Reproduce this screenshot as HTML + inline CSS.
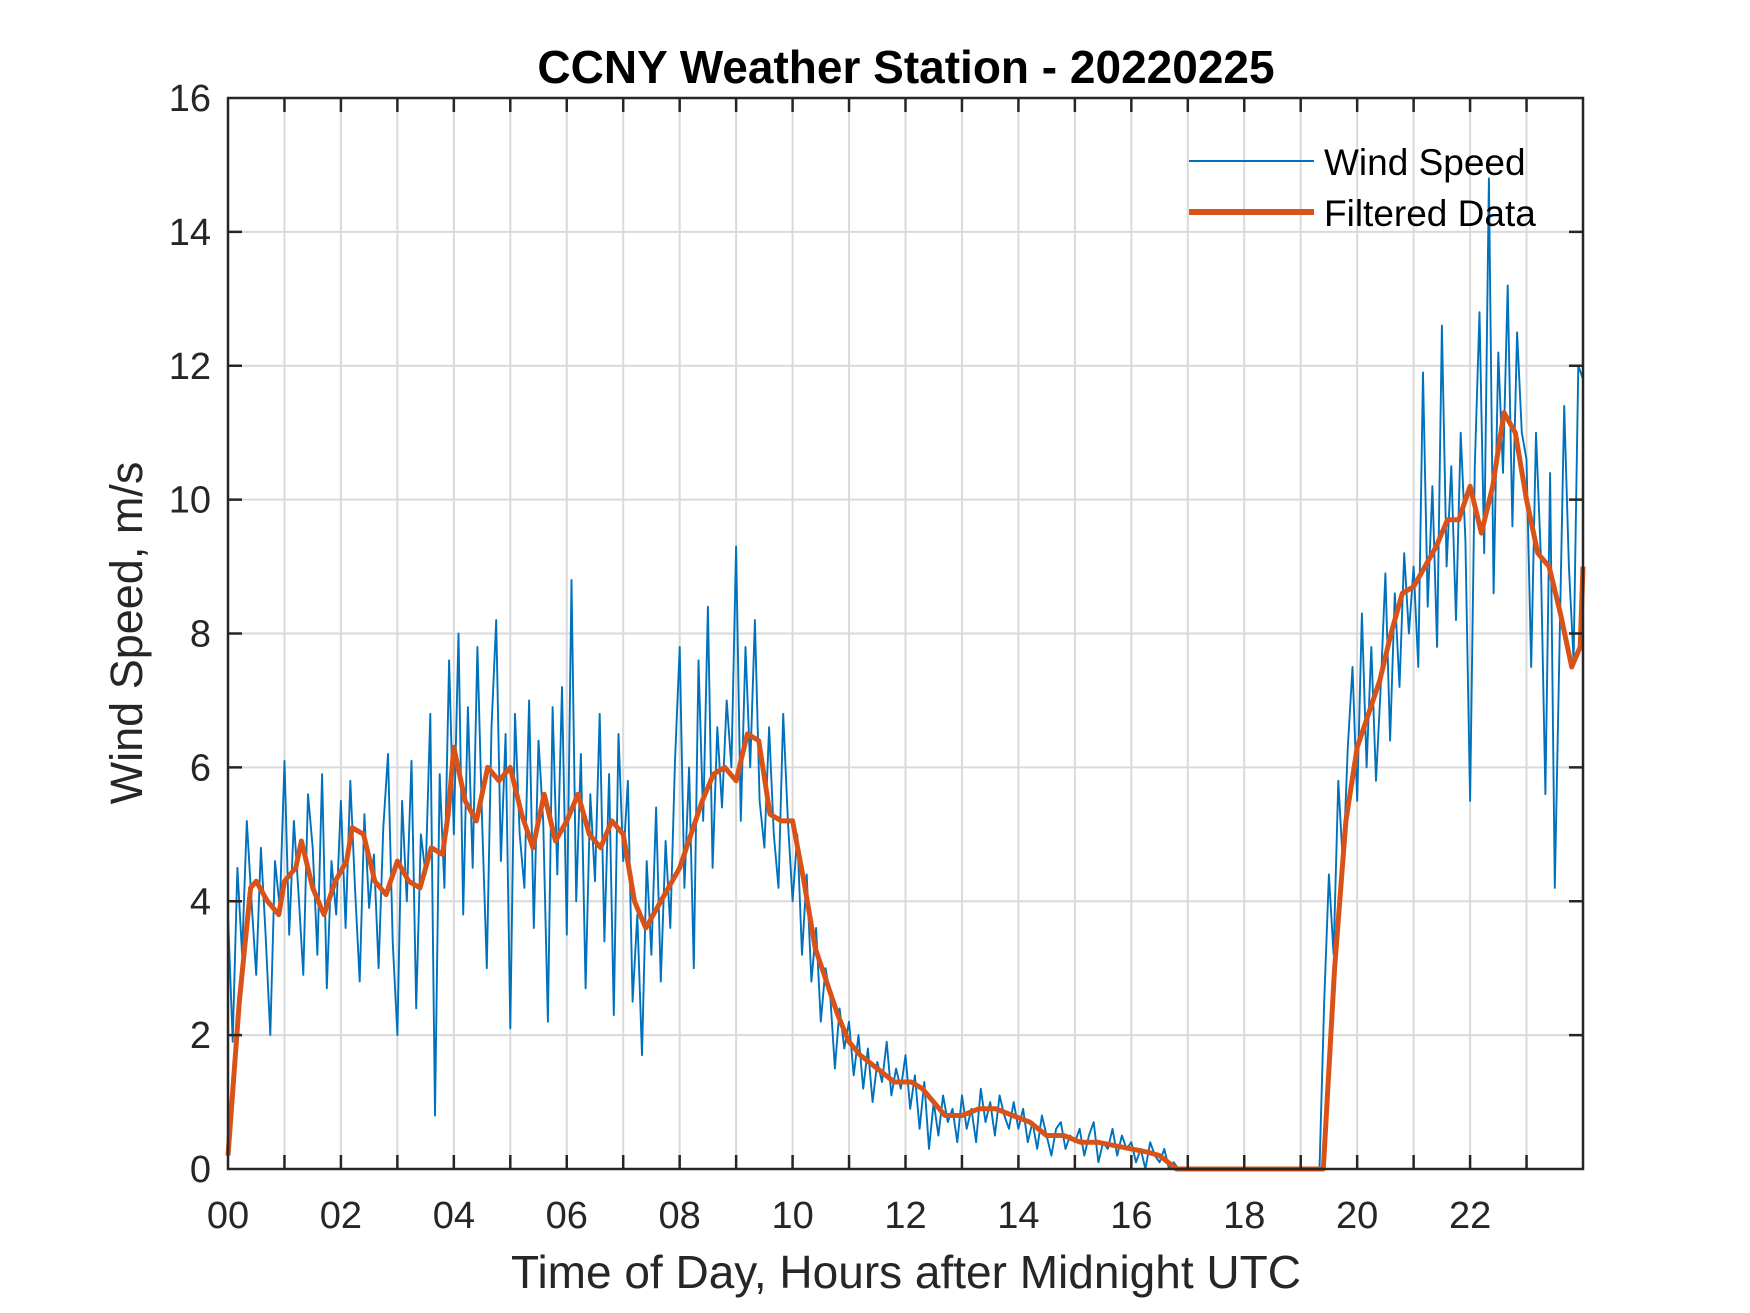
<!DOCTYPE html>
<html><head><meta charset="utf-8"><style>
html,body{margin:0;padding:0;background:#fff}
svg{display:block;font-family:"Liberation Sans",Arial,sans-serif}
</style></head><body>
<svg id="chart" width="1750" height="1313" viewBox="0 0 1750 1313" xmlns="http://www.w3.org/2000/svg">
<rect width="1750" height="1313" fill="#fff"/>
<g id="grid"></g>
<g id="series"></g>
<g id="axes"></g>
<text x="906" y="83" text-anchor="middle" font-size="46" font-weight="bold" fill="#000">CCNY Weather Station - 20220225</text>
<text x="906" y="1288" text-anchor="middle" font-size="46" fill="#262626">Time of Day, Hours after Midnight UTC</text>
<text transform="translate(142,633) rotate(-90)" text-anchor="middle" font-size="45" fill="#262626">Wind Speed, m/s</text>
<g>
<line x1="1189" y1="161" x2="1314" y2="161" stroke="#0072BD" stroke-width="2"/>
<text x="1324" y="175" font-size="37" fill="#000">Wind Speed</text>
<line x1="1189" y1="212" x2="1314" y2="212" stroke="#D95319" stroke-width="6"/>
<text x="1324" y="226" font-size="37" fill="#000">Filtered Data</text>
</g>
</svg>
<script>
const xTickLabels = ["00","02","04","06","08","10","12","14","16","18","20","22"];
const yTickLabels = [0,2,4,6,8,10,12,14,16];
const windSpeed = [
3.8,1.9,4.5,3.2,5.2,4.0,2.9,4.8,3.5,2.0,4.6,3.9,
6.1,3.5,5.2,4.1,2.9,5.6,4.8,3.2,5.9,2.7,4.6,3.8,
5.5,3.6,5.8,4.2,2.8,5.3,3.9,4.7,3.0,5.1,6.2,3.4,
2.0,5.5,4.0,6.1,2.4,5.0,4.4,6.8,0.8,5.9,4.2,7.6,
5.0,8.0,3.8,6.9,4.5,7.8,5.2,3.0,6.6,8.2,4.6,6.5,
2.1,6.8,5.0,4.2,7.0,3.6,6.4,5.2,2.2,6.9,4.4,7.2,
3.5,8.8,4.0,6.2,2.7,5.6,4.3,6.8,3.4,5.9,2.3,6.5,
4.6,5.8,2.5,3.8,1.7,4.6,3.2,5.4,2.8,4.9,3.6,6.1,
7.8,4.2,6.0,3.0,7.6,5.2,8.4,4.5,6.6,5.4,7.0,6.0,
9.3,5.2,7.8,6.0,8.2,5.5,4.8,6.6,5.0,4.2,6.8,5.2,
4.0,5.0,3.2,4.4,2.8,3.6,2.2,3.0,2.6,1.5,2.4,1.8,
2.2,1.4,2.0,1.2,1.8,1.0,1.6,1.3,1.9,1.1,1.5,1.2,
1.7,0.9,1.4,0.6,1.3,0.3,1.0,0.5,1.1,0.7,0.9,0.4,
1.1,0.6,0.9,0.4,1.2,0.7,1.0,0.5,1.1,0.8,0.6,1.0,
0.6,0.9,0.4,0.7,0.3,0.8,0.5,0.2,0.6,0.7,0.3,0.5,
0.4,0.6,0.2,0.5,0.7,0.1,0.4,0.3,0.6,0.2,0.5,0.3,
0.4,0.1,0.3,0.0,0.4,0.2,0.1,0.3,0.0,0.1,0.0,0.0,
0,0,0,0,0,0,0,0,0,0,0,0,
0,0,0,0,0,0,0,0,0,0,0,0,
0,0,0,0,0,2.5,4.4,3.2,5.8,4.5,6.3,7.5,
5.5,8.3,6.0,7.8,5.8,7.2,8.9,6.4,8.6,7.2,9.2,8.0,
9.0,7.5,11.9,8.4,10.2,7.8,12.6,9.0,10.5,8.2,11.0,9.4,
5.5,10.5,12.8,9.2,14.8,8.6,12.2,10.4,13.2,9.6,12.5,11.0,
10.6,7.5,11.0,9.2,5.6,10.4,4.2,7.8,11.4,9.0,7.6,12.0,
11.8];
const filtHours = [0,0.2,0.4,0.5,0.7,0.9,1.0,1.2,1.3,1.5,1.7,1.9,2.1,2.2,2.4,2.6,2.8,3.0,3.2,3.4,3.6,3.8,3.9,4.0,4.2,4.4,4.6,4.8,5.0,5.2,5.4,5.6,5.8,6.0,6.2,6.4,6.6,6.8,7.0,7.2,7.4,7.6,7.8,8.0,8.2,8.4,8.6,8.8,9.0,9.2,9.4,9.6,9.8,10.0,10.2,10.4,10.6,10.8,11.0,11.2,11.5,11.8,12.1,12.3,12.5,12.7,13.0,13.3,13.6,13.9,14.2,14.5,14.8,15.1,15.4,15.7,16.0,16.3,16.5,16.8,19.4,19.6,19.8,20.0,20.2,20.4,20.6,20.8,21.0,21.2,21.4,21.6,21.8,22.0,22.2,22.4,22.6,22.8,23.0,23.2,23.4,23.6,23.8,23.95,24];
const filtValues = [0.2,2.5,4.2,4.3,4.0,3.8,4.3,4.5,4.9,4.2,3.8,4.3,4.6,5.1,5.0,4.3,4.1,4.6,4.3,4.2,4.8,4.7,5.3,6.3,5.5,5.2,6.0,5.8,6.0,5.3,4.8,5.6,4.9,5.2,5.6,5.0,4.8,5.2,5.0,4.0,3.6,3.9,4.2,4.5,5.0,5.5,5.9,6.0,5.8,6.5,6.4,5.3,5.2,5.2,4.3,3.3,2.8,2.3,1.9,1.7,1.5,1.3,1.3,1.2,1.0,0.8,0.8,0.9,0.9,0.8,0.7,0.5,0.5,0.4,0.4,0.35,0.3,0.25,0.2,0,0,3.0,5.2,6.3,6.8,7.3,8.0,8.6,8.7,9.0,9.3,9.7,9.7,10.2,9.5,10.2,11.3,11.0,10.0,9.2,9.0,8.3,7.5,7.8,9.0];

const L=228,R=1583,T=98,B=1169;
const xScale=h=>L+(h/24)*(R-L);
const yScale=v=>B-(v/16)*(B-T);
const NS="http://www.w3.org/2000/svg";
function mk(tag,attrs,parent){const e=document.createElementNS(NS,tag);for(const k in attrs)e.setAttribute(k,attrs[k]);parent.appendChild(e);return e;}
const grid=document.getElementById('grid'),axes=document.getElementById('axes'),series=document.getElementById('series');
for(let h=1;h<24;h++){
  const g=mk('line',{x1:xScale(h),x2:xScale(h),y1:T,y2:B,stroke:'#dadada','stroke-width':2},grid);
  
  
  const t1=mk('line',{x1:xScale(h),x2:xScale(h),y1:B,y2:B-14,stroke:'#262626','stroke-width':2.5},axes);
  
  
  const t2=mk('line',{x1:xScale(h),x2:xScale(h),y1:T,y2:T+14,stroke:'#262626','stroke-width':2.5},axes);
  
  
}
yTickLabels.forEach(v=>{
  if(v>0&&v<16){
    const g=mk('line',{x1:L,x2:R,y1:yScale(v),y2:yScale(v),stroke:'#dadada','stroke-width':2},grid);
    
    
    const t1=mk('line',{x1:L,x2:L+14,y1:yScale(v),y2:yScale(v),stroke:'#262626','stroke-width':2.5},axes);
    
    
    const t2=mk('line',{x1:R,x2:R-14,y1:yScale(v),y2:yScale(v),stroke:'#262626','stroke-width':2.5},axes);
    
    
  }
  const lb=mk('text',{x:L-17,y:yScale(v)+13,'text-anchor':'end','font-size':38,fill:'#262626'},axes);
  lb.textContent=v;
  
  
});
xTickLabels.forEach((s,i)=>{
  const lb=mk('text',{x:xScale(i*2),y:1228,'text-anchor':'middle','font-size':38,fill:'#262626'},axes);
  lb.textContent=s;
  
  
});
const frame=mk('rect',{x:L,y:T,width:R-L,height:B-T,fill:'none',stroke:'#262626','stroke-width':2.5},axes);



const wp=windSpeed.map((v,i)=>xScale(Math.min(i/12,24)).toFixed(1)+','+yScale(v).toFixed(1)).join(' ');
const wl=mk('polyline',{points:wp,fill:'none',stroke:'#0072BD','stroke-width':1.9,'stroke-linejoin':'round'},series);


const fp=filtHours.map((h,i)=>xScale(h).toFixed(1)+','+yScale(filtValues[i]).toFixed(1)).join(' ');
const fl=mk('polyline',{points:fp,fill:'none',stroke:'#D95319','stroke-width':5,'stroke-linejoin':'round'},series);


</script>
</body></html>
